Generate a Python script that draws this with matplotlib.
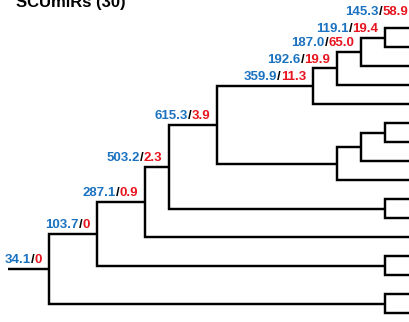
import matplotlib
matplotlib.use('Agg')
from matplotlib import pyplot as plt

plt.rcParams['font.family'] = ['Liberation Sans', 'DejaVu Sans']

TITLE = 'SCUmiRs (30)'
BLUE = '#1b72c0'
RED = '#e8141f'

# internal nodes of the tree: depth on the x axis, two children each
# (a child is another node name or a tip row number)
node_names = ['root', 'n1', 'n2', 'n3', 'n4', 'n5', 'n6', 'n7', 'n8', 'n9',
              'h1', 'm1', 'm2', 'c1', 'c2', 'c3', 'c4']
node_depth = [0, 2, 4, 5, 7, 11, 12, 13, 14, 15.25,
              15.05, 12, 13, 14, 14, 14, 14]
node_kids = [['n1', 'c4'], ['n2', 'c3'], ['n3', 11], ['n4', 'c2'],
             ['n5', 'm1'], ['n6', 4], ['n7', 3], ['n8', 2], ['h1', 1],
             [-0.74, 0], ['n9', 0.37], ['m2', 8], ['c1', 7], [5, 6],
             [9, 10], [12, 13], [14, 15]]

# support values (bootstrap / posterior) for labelled nodes
boot_vals = ['34.1', '103.7', '287.1', '503.2', '615.3', '359.9', '192.6',
             '187.0', '119.1', '145.3']
pp_vals = ['0', '0', '0.9', '2.3', '3.9', '11.3', '19.9', '65.0', '19.4',
           '58.9']

TIP_DEPTH = 16
ROOT_STEM = -1.7

depth = dict(zip(node_names, node_depth))
kids = dict(zip(node_names, node_kids))


def node_y(n):
    if not isinstance(n, str):
        return n
    return sum(node_y(k) for k in kids[n]) / len(kids[n])


def node_x(n):
    return depth[n] if isinstance(n, str) else TIP_DEPTH


fig = plt.figure(figsize=(4.09, 3.22), dpi=100)
ax = fig.add_axes([0, 0, 1, 1])
ax.axis('off')
ax.set_xlim(-49 / 24, 15)
ax.set_ylim(15.45, -1.471)

line_kw = dict(color='black', lw=1.75, solid_joinstyle='miter',
               solid_capstyle='butt')

for n in node_names:
    a, b = kids[n]
    d = depth[n]
    xs = [node_x(a), d, d, node_x(b)]
    ys = [node_y(a), node_y(a), node_y(b), node_y(b)]
    ax.plot(xs, ys, **line_kw)

ax.plot([ROOT_STEM, 0], [node_y('root')] * 2, **line_kw)

font = dict(fontsize=9.5, fontweight='bold')


def support_label(n, boot, pp):
    red = ax.annotate(pp, xy=(depth[n], node_y(n)), xytext=(-5, 2),
                      textcoords='offset points', ha='right', va='bottom',
                      color=RED, annotation_clip=False, **font)
    slash = ax.annotate('/', xy=(0, 0), xycoords=red, ha='right',
                        va='bottom', color='black', **font)
    ax.annotate(boot, xy=(0, 0), xycoords=slash, ha='right', va='bottom',
                color=BLUE, **font)


for n, bv, pv in zip(node_names, boot_vals, pp_vals):
    support_label(n, bv, pv)

fig.text(16 / 409, 1 - 7 / 322, TITLE, fontsize=12, fontweight='bold',
         ha='left', va='baseline')

fig.savefig('out.png', dpi=100)
